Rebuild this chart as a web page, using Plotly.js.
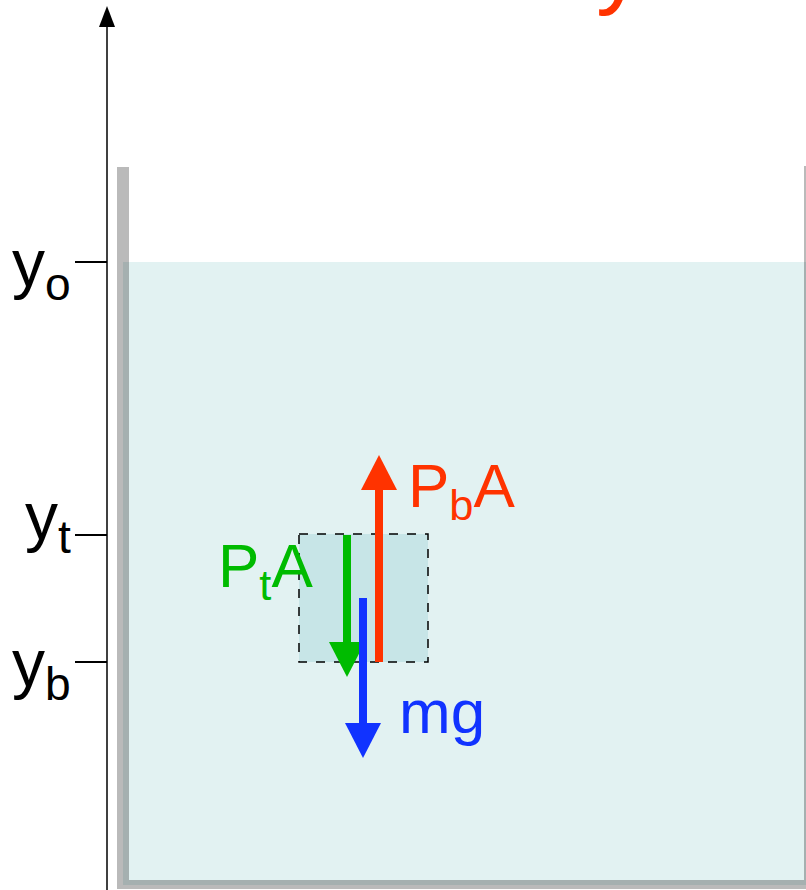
<!DOCTYPE html>
<html>
<head>
<meta charset="utf-8">
<script src="https://cdn.plot.ly/plotly-3.0.1.min.js"></script>
<style>html,body{margin:0;padding:0;background:#fff;}#chart{width:806px;height:890px;}</style>
</head>
<body>
<div id="chart"></div>
<script>
// ---- data (diagram coordinates: x to the right, y downward from the top edge) ----
const levelLabels = ['y<sub>o</sub>', 'y<sub>t</sub>', 'y<sub>b</sub>'];
const levelValues = [262, 535, 662];

const forceLabels = ['P<sub>t</sub>A', 'mg', 'P<sub>b</sub>A'];
const forceX      = [347, 363, 379];
const forceFrom   = [535, 598, 662];
const forceTo     = [677, 758, 455];

const waterX = [123, 806];
const waterY = [262, 885];
const wallTop = 167;
const tankBottom = 889;
const boxX = [299, 428];
const boxY = [534, 662];

const axisX = 107;
const axisTip = 6;
const titleText = 'y';

// ---- styles / label placement ----
const forceColors = ['#00bb00', '#1133ff', '#ff3300'];
const forceLabelPos = [
  {x: 216, y: 570},
  {x: 397, y: 711},
  {x: 406, y: 490}
];
const levelLabelPos = [
  {x: 73, y: 268},
  {x: 73, y: 521},
  {x: 73, y: 668}
];
const headLen = 35, headHalf = 18, shaftW = 8;
const FONT = 'Liberation Sans, Arial, sans-serif';

const traces = [];
// vertical axis line + arrow head
traces.push({x: [axisX, axisX], y: [890, axisTip + 20], mode: 'lines',
  line: {color: '#000', width: 1.5}, hoverinfo: 'skip'});
traces.push({x: [axisX - 8, axisX, axisX + 8, axisX - 8], y: [axisTip + 21, axisTip, axisTip + 21, axisTip + 21],
  mode: 'lines', fill: 'toself', fillcolor: '#000', line: {width: 0, color: '#000'}, hoverinfo: 'skip'});

// force arrows
for (let i = 0; i < forceX.length; i++) {
  const dir = Math.sign(forceTo[i] - forceFrom[i]);
  const base = forceTo[i] - dir * headLen;
  traces.push({x: [forceX[i], forceX[i]], y: [forceFrom[i], base + dir * 2], mode: 'lines',
    line: {color: forceColors[i], width: shaftW}, hoverinfo: 'skip'});
  traces.push({x: [forceX[i] - headHalf, forceX[i], forceX[i] + headHalf, forceX[i] - headHalf],
    y: [base, forceTo[i], base, base], mode: 'lines', fill: 'toself',
    fillcolor: forceColors[i], line: {width: 0, color: forceColors[i]}, hoverinfo: 'skip'});
}

const wallFill = 'rgba(0,0,0,0.27)';
const shapes = [
  {type: 'rect', layer: 'below', xref: 'x', yref: 'y', x0: waterX[0], x1: waterX[1], y0: waterY[0], y1: waterY[1],
   fillcolor: '#e2f2f2', line: {width: 0}},
  {type: 'rect', layer: 'below', xref: 'x', yref: 'y', x0: boxX[0], x1: boxX[1], y0: boxY[0], y1: boxY[1],
   fillcolor: '#c7e5e7', line: {color: '#000', width: 1.5, dash: 'dash'}},
  {type: 'rect', layer: 'above', xref: 'x', yref: 'y', x0: 117, x1: 129, y0: wallTop, y1: tankBottom,
   fillcolor: wallFill, line: {width: 0}},
  {type: 'rect', layer: 'above', xref: 'x', yref: 'y', x0: 129, x1: 806, y0: 880, y1: tankBottom,
   fillcolor: wallFill, line: {width: 0}},
  {type: 'rect', layer: 'above', xref: 'x', yref: 'y', x0: 804, x1: 807, y0: wallTop - 1, y1: 880,
   fillcolor: wallFill, line: {width: 0}}
];

const annotations = forceLabels.map((t, i) => ({
  x: forceLabelPos[i].x, y: forceLabelPos[i].y, xref: 'x', yref: 'y', text: t, showarrow: false,
  xanchor: 'left', yanchor: 'middle',
  font: {family: FONT, size: 62, color: forceColors[i]}
}));
levelLabels.forEach((t, i) => annotations.push({
  x: levelLabelPos[i].x, y: levelLabelPos[i].y, xref: 'x', yref: 'y', text: t, showarrow: false,
  xanchor: 'right', yanchor: 'middle',
  font: {family: FONT, size: 66, color: '#000'}
}));
annotations.push({x: 620, y: 18, xref: 'x', yref: 'y', text: titleText, showarrow: false,
  xanchor: 'center', yanchor: 'bottom',
  font: {family: FONT, size: 96, color: '#ff3300'}});

const layout = {
  width: 806, height: 890,
  margin: {l: 0, r: 0, t: 0, b: 0, pad: 0},
  paper_bgcolor: '#fff', plot_bgcolor: '#fff',
  showlegend: false,
  xaxis: {range: [0, 806], visible: false, fixedrange: true},
  yaxis: {range: [890, 0], anchor: 'free', position: axisX / 806,
    tickvals: levelValues, showticklabels: false, ticks: 'outside', ticklen: 32, tickwidth: 1.5,
    tickcolor: '#000', showline: false, showgrid: false, zeroline: false, automargin: false,
    fixedrange: true},
  shapes: shapes,
  annotations: annotations
};

Plotly.newPlot('chart', traces, layout, {displayModeBar: false, staticPlot: true});
</script>
</body>
</html>
